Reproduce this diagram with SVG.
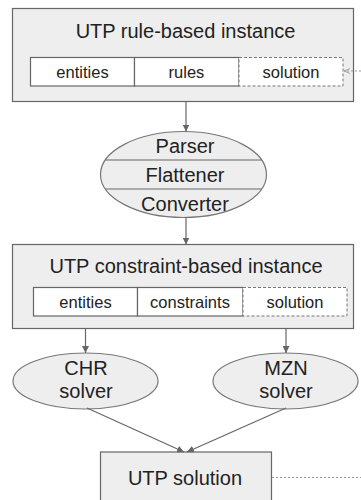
<svg xmlns="http://www.w3.org/2000/svg" width="361" height="500" viewBox="0 0 361 500">
<defs>
<style>
text{font-family:"Liberation Sans",Arial,sans-serif;fill:#222;text-anchor:middle}
.t{font-size:20px}
.c{font-size:16.5px}
.box{fill:#eeeeee;stroke:#666;stroke-width:1.2}
.cell{fill:#fff;stroke:#666;stroke-width:1.2}
.dcell{fill:#fff;stroke:#777;stroke-width:1;stroke-dasharray:3,2}
.ell{fill:#eeeeee;stroke:#777;stroke-width:1.2}
.edge{fill:none;stroke:#666;stroke-width:1.2}
.dot{fill:none;stroke:#999;stroke-width:1;stroke-dasharray:2,2}
</style>
<marker id="ah" viewBox="0 0 10 10" refX="10" refY="5" markerWidth="7" markerHeight="7" markerUnits="userSpaceOnUse" orient="auto">
<path d="M0,0 L10,5 L0,10 z" fill="#666"/>
</marker>
<marker id="ah2" viewBox="0 0 10 10" refX="10" refY="5" markerWidth="6" markerHeight="6" markerUnits="userSpaceOnUse" orient="auto">
<path d="M0,1 L10,5 L0,9" fill="none" stroke="#999" stroke-width="1.5"/>
</marker>
</defs>

<g id="rule-instance">
<rect class="box" x="12.5" y="8.5" width="341" height="93"/>
<text class="t" x="185.5" y="38">UTP rule-based instance</text>
<rect class="cell" x="30.5" y="57.5" width="104" height="28.5"/>
<rect class="cell" x="134.5" y="57.5" width="104.5" height="28.5"/>
<rect class="dcell" x="239" y="57.5" width="104" height="28.5"/>
<text class="c" x="82.5" y="78">entities</text>
<text class="c" x="186.5" y="78">rules</text>
<text class="c" x="291" y="78">solution</text>
</g>

<g id="parser">
<ellipse class="ell" cx="183.5" cy="174.5" rx="83" ry="43"/>
<line class="edge" x1="105.4" y1="160" x2="261.6" y2="160"/>
<line class="edge" x1="105.4" y1="189" x2="261.6" y2="189"/>
<text class="t" x="185" y="153">Parser</text>
<text class="t" x="185" y="182">Flattener</text>
<text class="t" x="185" y="211">Converter</text>
</g>

<g id="constraint-instance">
<rect class="box" x="12.5" y="244.5" width="341" height="84"/>
<text class="t" x="186" y="273">UTP constraint-based instance</text>
<rect class="cell" x="33.5" y="287.5" width="104" height="28.5"/>
<rect class="cell" x="137.5" y="287.5" width="105.5" height="28.5"/>
<rect class="dcell" x="243" y="287.5" width="104" height="28.5"/>
<text class="c" x="85.5" y="307.5">entities</text>
<text class="c" x="190" y="307.5">constraints</text>
<text class="c" x="295" y="307.5">solution</text>
</g>

<g id="chr">
<ellipse class="ell" cx="85.5" cy="381" rx="72.5" ry="28"/>
<text class="t" x="86" y="375">CHR</text>
<text class="t" x="86" y="398">solver</text>
</g>

<g id="mzn">
<ellipse class="ell" cx="285.5" cy="381" rx="72.5" ry="28"/>
<text class="t" x="286" y="375">MZN</text>
<text class="t" x="286" y="398">solver</text>
</g>

<g id="utp-solution">
<rect class="box" x="100.5" y="452" width="171" height="60"/>
<text class="t" x="185" y="485">UTP solution</text>
</g>

<g id="connectors">
<line class="edge" x1="186" y1="101.5" x2="186" y2="131.5" marker-end="url(#ah)"/>
<line class="edge" x1="186" y1="217.5" x2="186" y2="244.5" marker-end="url(#ah)"/>
<line class="edge" x1="85.5" y1="328.5" x2="85.5" y2="353" marker-end="url(#ah)"/>
<line class="edge" x1="286" y1="328.5" x2="286" y2="353" marker-end="url(#ah)"/>
<line class="edge" x1="87" y1="408" x2="184" y2="452" marker-end="url(#ah)"/>
<line class="edge" x1="286" y1="408" x2="187" y2="452" marker-end="url(#ah)"/>
<line class="dot" x1="361" y1="71" x2="344" y2="71" marker-end="url(#ah2)"/>
<line class="dot" x1="272" y1="477.5" x2="361" y2="477.5"/>
</g>
</svg>
